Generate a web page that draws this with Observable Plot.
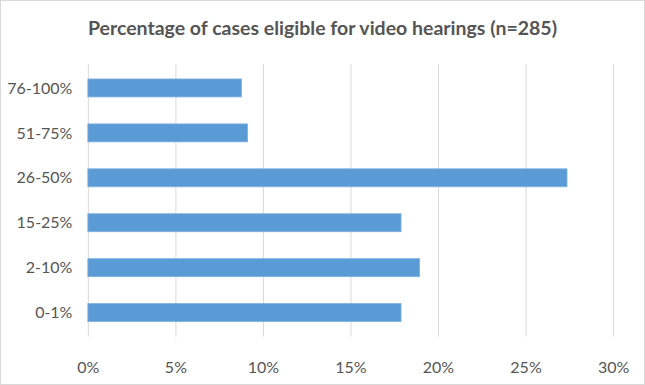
<!DOCTYPE html>
<html>
<head>
<meta charset="utf-8">
<script src="https://cdn.jsdelivr.net/npm/d3@7"></script>
<script src="https://cdn.jsdelivr.net/npm/@observablehq/plot@0.6"></script>
<style>
  html, body { margin: 0; padding: 0; background: #fff; }
  #wrap { width: 645px; height: 385px; box-sizing: border-box; border: 1px solid #d9d9d9; position: relative; overflow: hidden; }
  #title { position: absolute; left: 0; top: 15px; width: 100%; text-align: center; font-family: Lato, sans-serif; font-weight: bold; font-size: 19.5px; color: #555555; }
  #chart { position: absolute; left: -1px; top: 54px; }
</style>
</head>
<body>
<div id="wrap">
  <div id="title">Percentage of cases eligible for video hearings (n=285)</div>
  <div id="chart"></div>
</div>
<script>
const categories = ["76-100%", "51-75%", "26-50%", "15-25%", "2-10%", "0-1%"];
const shares = [0.0877, 0.0912, 0.2737, 0.1789, 0.1895, 0.1789];
const xTicks = [0, 0.05, 0.10, 0.15, 0.20, 0.25, 0.30];

const data = categories.map((c, i) => ({category: c, share: shares[i]}));

const chart = Plot.plot({
  width: 645,
  height: 330,
  marginLeft: 88,
  marginRight: 31,
  marginTop: 9,
  marginBottom: 48,
  style: {fontFamily: "Lato, sans-serif", fontSize: "16px", color: "#555555", background: "transparent"},
  x: {domain: [0, 0.30], ticks: xTicks, tickFormat: d3.format(".0%"), label: null},
  y: {domain: categories, paddingInner: 0.6, paddingOuter: 0.3, label: null},
  marks: [
    Plot.gridX(xTicks, {stroke: "#d9d9d9", strokeOpacity: 1, strokeWidth: 1}),
    Plot.barX(data, {x: "share", y: "category", fill: "#5b9bd5", stroke: "#7fb0de", strokeWidth: 0.8}),
    Plot.axisX(xTicks, {tickSize: 0, tickPadding: 25, tickFormat: d3.format(".0%"), fill: "#555555", label: null}),
    Plot.axisY({tickSize: 0, tickPadding: 16, fill: "#555555", label: null})
  ]
});
document.getElementById("chart").appendChild(chart);
</script>
</body>
</html>
